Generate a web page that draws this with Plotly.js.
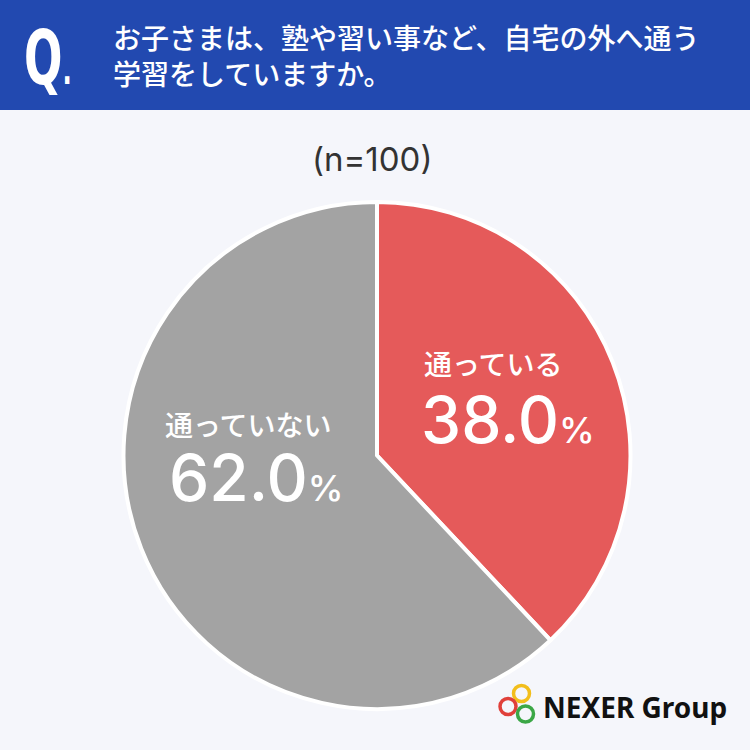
<!DOCTYPE html>
<html>
<head>
<meta charset="utf-8">
<script src="https://cdn.plot.ly/plotly-3.0.1.min.js"></script>
<style>
  html, body { margin: 0; padding: 0; background: #F5F6FB; }
  #chart { width: 750px; height: 750px; }
</style>
</head>
<body>
<div id="chart"></div>
<script>
// ---- data ----
const categories = ['通っている', '通っていない'];
const values = [38.0, 62.0];
const sliceColors = ['#E55A5A', '#A3A3A3'];
const questionLines = ['お子さまは、塾や習い事など、自宅の外へ通う', '学習をしていますか。'];
const sampleLabel = '(n=100)';
const brandName = 'NEXER Group';

// ---- helpers ----
const W = 750, H = 750;
const px = x => x / W;
const py = y => 1 - y / H;
const JP = '"Noto Sans CJK JP", "Noto Sans", sans-serif';
const NUM = 'Inter, "Noto Sans", sans-serif';

const labelPos = [
  { lx: 493, ly: 363, vx: 508, vy: 419 },
  { lx: 248, ly: 424, vx: 256, vy: 477 }
];

const annotations = [];
categories.forEach((c, i) => {
  const p = labelPos[i];
  annotations.push({
    text: c, x: px(p.lx), y: py(p.ly), xref: 'paper', yref: 'paper',
    xanchor: 'center', yanchor: 'middle', showarrow: false,
    font: { family: JP, size: 28, color: '#FFFFFF', weight: 500 }
  });
  annotations.push({
    text: values[i].toFixed(1) + '<span style="font-size:36px">%</span>',
    x: px(p.vx), y: py(p.vy), xref: 'paper', yref: 'paper',
    xanchor: 'center', yanchor: 'middle', showarrow: false,
    font: { family: NUM, size: 64, color: '#FFFFFF', weight: 500 }
  });
});

// header question mark "Q." (index 4)
const qIndex = annotations.length;
annotations.push({
  text: 'Q<span style="font-size:40px">.</span>', x: px(22), y: py(58), xref: 'paper', yref: 'paper',
  xanchor: 'left', yanchor: 'middle', showarrow: false,
  font: { family: '"DejaVu Sans Condensed", "Liberation Sans", sans-serif', size: 74, color: '#FFFFFF', weight: 700 }
});
annotations.push({
  text: questionLines.join('<br>'), x: px(111), y: py(55), xref: 'paper', yref: 'paper',
  xanchor: 'left', yanchor: 'middle', align: 'left', showarrow: false,
  font: { family: JP, size: 28, color: '#FFFFFF', weight: 500 }
});

// sample size
annotations.push({
  text: sampleLabel, x: px(372), y: py(159), xref: 'paper', yref: 'paper',
  xanchor: 'center', yanchor: 'middle', showarrow: false,
  font: { family: NUM, size: 33, color: '#333333', weight: 400 }
});

// brand
annotations.push({
  text: brandName, x: px(541), y: py(707), xref: 'paper', yref: 'paper',
  xanchor: 'left', yanchor: 'middle', showarrow: false,
  font: { family: '"Noto Sans", sans-serif', size: 28, color: '#111111', weight: 700 }
});

function circle(cx, cy, r, color) {
  return {
    type: 'circle', xref: 'paper', yref: 'paper',
    x0: px(cx - r), x1: px(cx + r), y0: py(cy + r), y1: py(cy - r),
    line: { color: color, width: 3.5 }, fillcolor: 'rgba(0,0,0,0)'
  };
}

const shapes = [
  { type: 'rect', xref: 'paper', yref: 'paper', x0: 0, x1: 1, y0: py(110), y1: 1,
    fillcolor: '#2249B0', line: { width: 0 }, layer: 'below' },
  circle(521.5, 693.5, 8, '#F2BE1C'),
  circle(508, 706.5, 8, '#E0403A'),
  circle(525.5, 714, 8, '#3BA746')
];

const trace = {
  type: 'pie',
  labels: categories,
  values: values,
  sort: false,
  direction: 'clockwise',
  rotation: 0,
  textinfo: 'none',
  hoverinfo: 'none',
  marker: { colors: sliceColors, line: { color: '#FFFFFF', width: 4 } },
  domain: { x: [px(122), px(632)], y: [py(709), py(202)] },
  showlegend: false
};

Plotly.newPlot('chart', [trace], {
  width: W, height: H,
  margin: { l: 0, r: 0, t: 0, b: 0 },
  paper_bgcolor: '#F5F6FB',
  plot_bgcolor: '#F5F6FB',
  showlegend: false,
  annotations: annotations,
  shapes: shapes
}, { staticPlot: true }).then(gd => {
  // narrow the condensed "Q." glyphs horizontally, as in the reference
  const t = gd.querySelector('.annotation[data-index="' + qIndex + '"] text');
  if (t) {
    const b = t.getBBox();
    const s = 0.68;
    t.setAttribute('transform', 'translate(' + b.x + ',0) scale(' + s + ',1) translate(' + (-b.x) + ',0)');
  }
});
</script>
</body>
</html>
